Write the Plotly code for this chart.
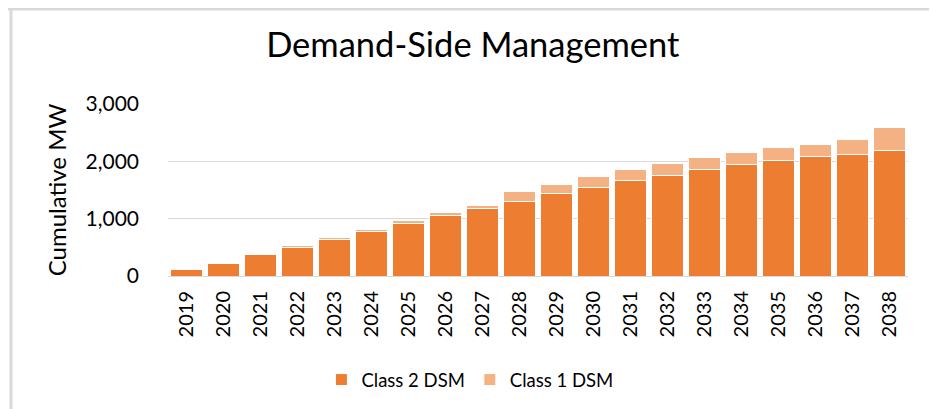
import plotly.graph_objects as go

years = [str(y) for y in range(2019, 2039)]
class2_dsm = [115, 225, 370, 505, 630, 770, 910, 1050, 1175, 1305,
              1433, 1543, 1666, 1753, 1858, 1939, 2015, 2079, 2126, 2184]
class1_dsm = [8, 18, 22, 25, 45, 45, 50, 50, 55, 168,
              170, 193, 186, 210, 204, 210, 221, 222, 250, 402]

FONT = "Lato, Open Sans, sans-serif"

fig = go.Figure()
fig.add_trace(go.Bar(x=years, y=class2_dsm, name="Class 2 DSM",
                     marker=dict(color="#ED7D31", line=dict(color="white", width=1))))
fig.add_trace(go.Bar(x=years, y=class1_dsm, name="Class 1 DSM",
                     marker=dict(color="#F4B183", line=dict(color="white", width=1))))

# page is drawn with an 8px body margin, so the plot area here is 160..900 x 96..268
frame = dict(color="#d9d9d9", width=3)

fig.update_layout(
    barmode="stack",
    bargap=0.12,
    width=937, height=409,
    margin=dict(l=160, r=37, t=96, b=141, autoexpand=False),
    paper_bgcolor="white", plot_bgcolor="white",
    font=dict(family=FONT, color="#000000"),
    title=dict(text="Demand-Side Management", x=0.496, xref="container", xanchor="center",
               y=0.909, yref="container", yanchor="middle",
               font=dict(size=34.5, family=FONT, color="#000000")),
    xaxis=dict(tickangle=-90, tickfont=dict(size=20), showgrid=False, automargin=False,
               showline=True, linecolor="#d9d9d9", linewidth=1, ticks="", ticklabelstandoff=6),
    yaxis=dict(range=[0, 3000], tickvals=[0, 1000, 2000, 3000], tickformat=",",
               tickfont=dict(size=21), gridcolor="#d9d9d9", gridwidth=1, automargin=False,
               zeroline=False, ticks="", ticklabelstandoff=28,
               title=dict(text="Cumulative MW", font=dict(size=24), standoff=12)),
    legend=dict(orientation="h", x=0.408, xanchor="center", y=-0.605, yanchor="middle",
                xref="paper", font=dict(size=18.5), traceorder="normal"),
    shapes=[
        dict(type="line", xref="paper", yref="paper", x0=-0.22, x1=1.06, y0=1.552, y1=1.552, line=frame),
        dict(type="line", xref="paper", yref="paper", x0=-0.2122, x1=-0.2122, y0=1.56, y1=-0.85, line=frame),
    ],
)

fig.write_html("out.html")
